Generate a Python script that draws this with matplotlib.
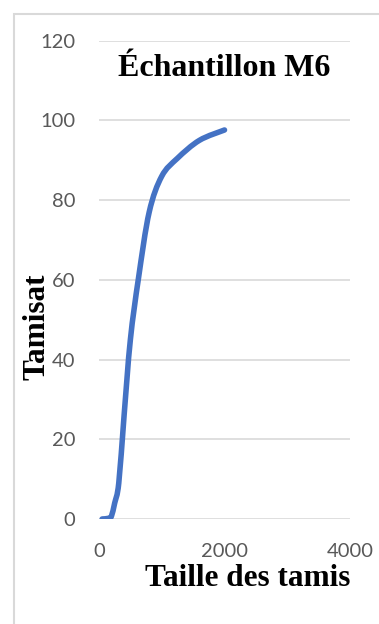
import matplotlib
matplotlib.use("Agg")
import matplotlib.pyplot as plt
from matplotlib.path import Path
from matplotlib.patches import PathPatch, Rectangle
import numpy as np

# Sieve opening (µm) and cumulative passing (%)
taille = [50, 160, 200, 250, 315, 400, 500, 630, 800, 1000, 1250, 1600, 2000]
tamisat = [0, 0.2, 0.8, 4, 9, 26, 45, 60.5, 77, 86, 90.5, 95, 97.6]

x_ticks = [0, 2000, 4000]
y_ticks = [0, 20, 40, 60, 80, 100, 120]

title = "Échantillon M6"
x_label = "Taille des tamis"
y_label = "Tamisat"

W, H = 379, 624
fig = plt.figure(figsize=(W / 100, H / 100), dpi=100)
fig.patch.set_facecolor("white")

# chart frame
fig.patches.append(Rectangle((14 / W, -0.1), 2.0, 1.1 - 14 / H, transform=fig.transFigure,
                             fill=False, edgecolor="#d9d9d9", linewidth=1.5))

ax = fig.add_axes([99 / W, 1 - 519 / H, (350 - 99) / W, (519 - 40.7) / H])
ax.set_xlim(0, 4000)
ax.set_ylim(0, 120)
for s in ax.spines.values():
    s.set_visible(False)
ax.set_xticks(x_ticks)
ax.set_yticks(y_ticks)
ax.tick_params(length=0, labelcolor="#595959", labelsize=14.5)
ax.tick_params(axis="x", pad=17)
ax.tick_params(axis="y", pad=17)
for lab in ax.get_xticklabels() + ax.get_yticklabels():
    lab.set_fontfamily("Lato")
ax.yaxis.grid(True, color="#d9d9d9", linewidth=1.2)
ax.set_axisbelow(True)

# smoothed line (Catmull-Rom style Bezier segments)
pts = np.column_stack([taille, tamisat]).astype(float)
n = len(pts)
verts = [pts[0]]
codes = [Path.MOVETO]
for i in range(n - 1):
    p0 = pts[i - 1] if i > 0 else pts[i]
    p1 = pts[i]
    p2 = pts[i + 1]
    p3 = pts[i + 2] if i + 2 < n else pts[i + 1]
    c1 = p1 + (p2 - p0) / 6.0
    c2 = p2 - (p3 - p1) / 6.0
    verts += [c1, c2, p2]
    codes += [Path.CURVE4] * 3
patch = PathPatch(Path(verts, codes), fill=False, edgecolor="#4472C4", linewidth=4.0,
                  capstyle="round", joinstyle="round", transform=ax.transData)
ax.add_patch(patch)

serif = "Liberation Serif"
ax.text(0.5, (H - 68 - (H - 519)) / (519 - 40.7), title, transform=ax.transAxes,
        ha="center", va="center", fontsize=23, fontweight="bold", fontfamily=serif)
fig.text(350 / W, 1 - 578 / H, x_label, ha="right", va="center",
         fontsize=22.5, fontweight="bold", fontfamily=serif)
fig.text(37 / W, 1 - 327 / H, y_label, ha="center", va="center", rotation=90,
         fontsize=22.5, fontweight="bold", fontfamily=serif)

fig.savefig("out.png", dpi=100, facecolor="white")
